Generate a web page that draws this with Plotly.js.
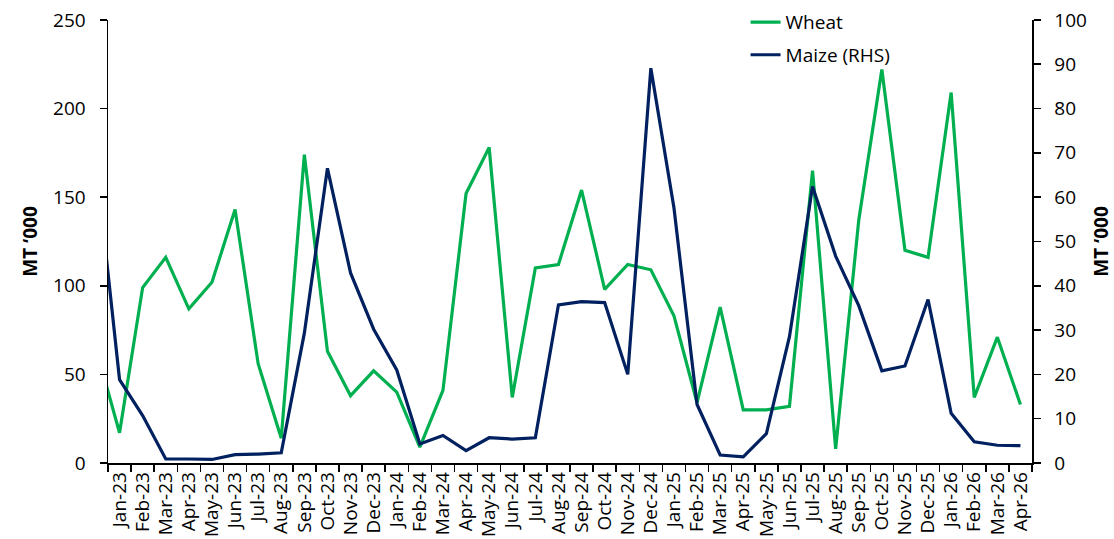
<!DOCTYPE html>
<html>
<head>
<meta charset="utf-8">
<script src="https://cdn.plot.ly/plotly-3.0.1.min.js"></script>
<style>html,body{margin:0;padding:0;background:#fff;}#chart{width:1114px;height:539px;}</style>
</head>
<body>
<div id="chart"></div>
<script>
// Months (Dec-22 is only partly visible, clipped at the left axis)
const months = ["Dec-22","Jan-23","Feb-23","Mar-23","Apr-23","May-23","Jun-23","Jul-23","Aug-23","Sep-23","Oct-23","Nov-23","Dec-23",
  "Jan-24","Feb-24","Mar-24","Apr-24","May-24","Jun-24","Jul-24","Aug-24","Sep-24","Oct-24","Nov-24","Dec-24",
  "Jan-25","Feb-25","Mar-25","Apr-25","May-25","Jun-25","Jul-25","Aug-25","Sep-25","Oct-25","Nov-25","Dec-25",
  "Jan-26","Feb-26","Mar-26","Apr-26"];

// Wheat, MT '000 (left axis)
const wheat = [64,17,99,116,87,102,143,56,14,174,63,38,52,
  40,9,41,152,178,37,110,112,154,98,112,109,
  83,34,88,30,30,32,165,8,137,222,120,116,
  209,37,71,33];

// Maize, MT '000 (right axis)
const maize = [67,18.8,10.7,0.9,0.9,0.8,1.9,2.0,2.3,29.3,66.5,42.9,30.2,
  21.0,4.3,6.2,2.8,5.7,5.4,5.7,35.7,36.4,36.2,20.0,89.1,
  57.6,13.2,1.8,1.4,6.6,28.5,62.4,46.7,35.5,20.8,21.9,36.9,
  11.2,4.8,4.0,3.9];

const seriesNames = ["Wheat","Maize (RHS)"];
const axisTitle = "MT \u2018000";

const FONT = "Open Sans, Liberation Sans, sans-serif";

const traces = [
  {x: months, y: wheat, name: seriesNames[0], type: "scatter", mode: "lines",
   line: {color: "#00B050", width: 3.2}, yaxis: "y", legendgroup: "a", hoverinfo: "skip"},
  {x: months, y: maize, name: seriesNames[1], type: "scatter", mode: "lines",
   line: {color: "#002060", width: 3.2}, yaxis: "y2", legendgroup: "b", hoverinfo: "skip"}
];

const layout = {
  width: 1114, height: 539,
  margin: {l: 108, r: 82, t: 2, b: 76},
  paper_bgcolor: "#fff", plot_bgcolor: "#fff",
  font: {family: FONT, size: 19, color: "#000"},
  showlegend: true,
  legend: {x: 0.69, xanchor: "left", y: 0.9974, yanchor: "top", bgcolor: "rgba(0,0,0,0)",
    font: {family: FONT, size: 19, color: "#000"}, tracegroupgap: 5, borderwidth: 0},
  xaxis: {type: "category", categoryorder: "array", categoryarray: months,
    range: [0.5, 40.5], tickson: "boundaries", ticks: "outside", ticklen: 7, tickwidth: 1.5,
    tickcolor: "#000", showline: true, linecolor: "#000", linewidth: 1.5, showgrid: false,
    zeroline: false, tickangle: -90, tickfont: {family: FONT, size: 19, color: "#000"}},
  yaxis: {domain: [0, 0.9612], range: [0, 250], dtick: 50, tick0: 0, ticks: "outside", ticklen: 7, tickwidth: 1.5,
    tickcolor: "#000", showline: true, linecolor: "#000", linewidth: 1.5, showgrid: false,
    zeroline: false, ticklabelstandoff: 10, tickfont: {family: FONT, size: 19, color: "#000"},
    title: {text: axisTitle, font: {family: FONT, size: 19, color: "#000", weight: 700}, standoff: 10}},
  yaxis2: {range: [0, 100], dtick: 10, tick0: 0, overlaying: "y", side: "right", anchor: "x",
    ticks: "outside", ticklen: 7, tickwidth: 1.5, tickcolor: "#000", showline: true,
    linecolor: "#000", linewidth: 1.5, showgrid: false, zeroline: false, ticklabelstandoff: 10,
    tickfont: {family: FONT, size: 19, color: "#000"},
    title: {text: axisTitle, font: {family: FONT, size: 19, color: "#000", weight: 700}, standoff: 25}}
};

Plotly.newPlot("chart", traces, layout, {staticPlot: true, displayModeBar: false});
</script>
</body>
</html>
